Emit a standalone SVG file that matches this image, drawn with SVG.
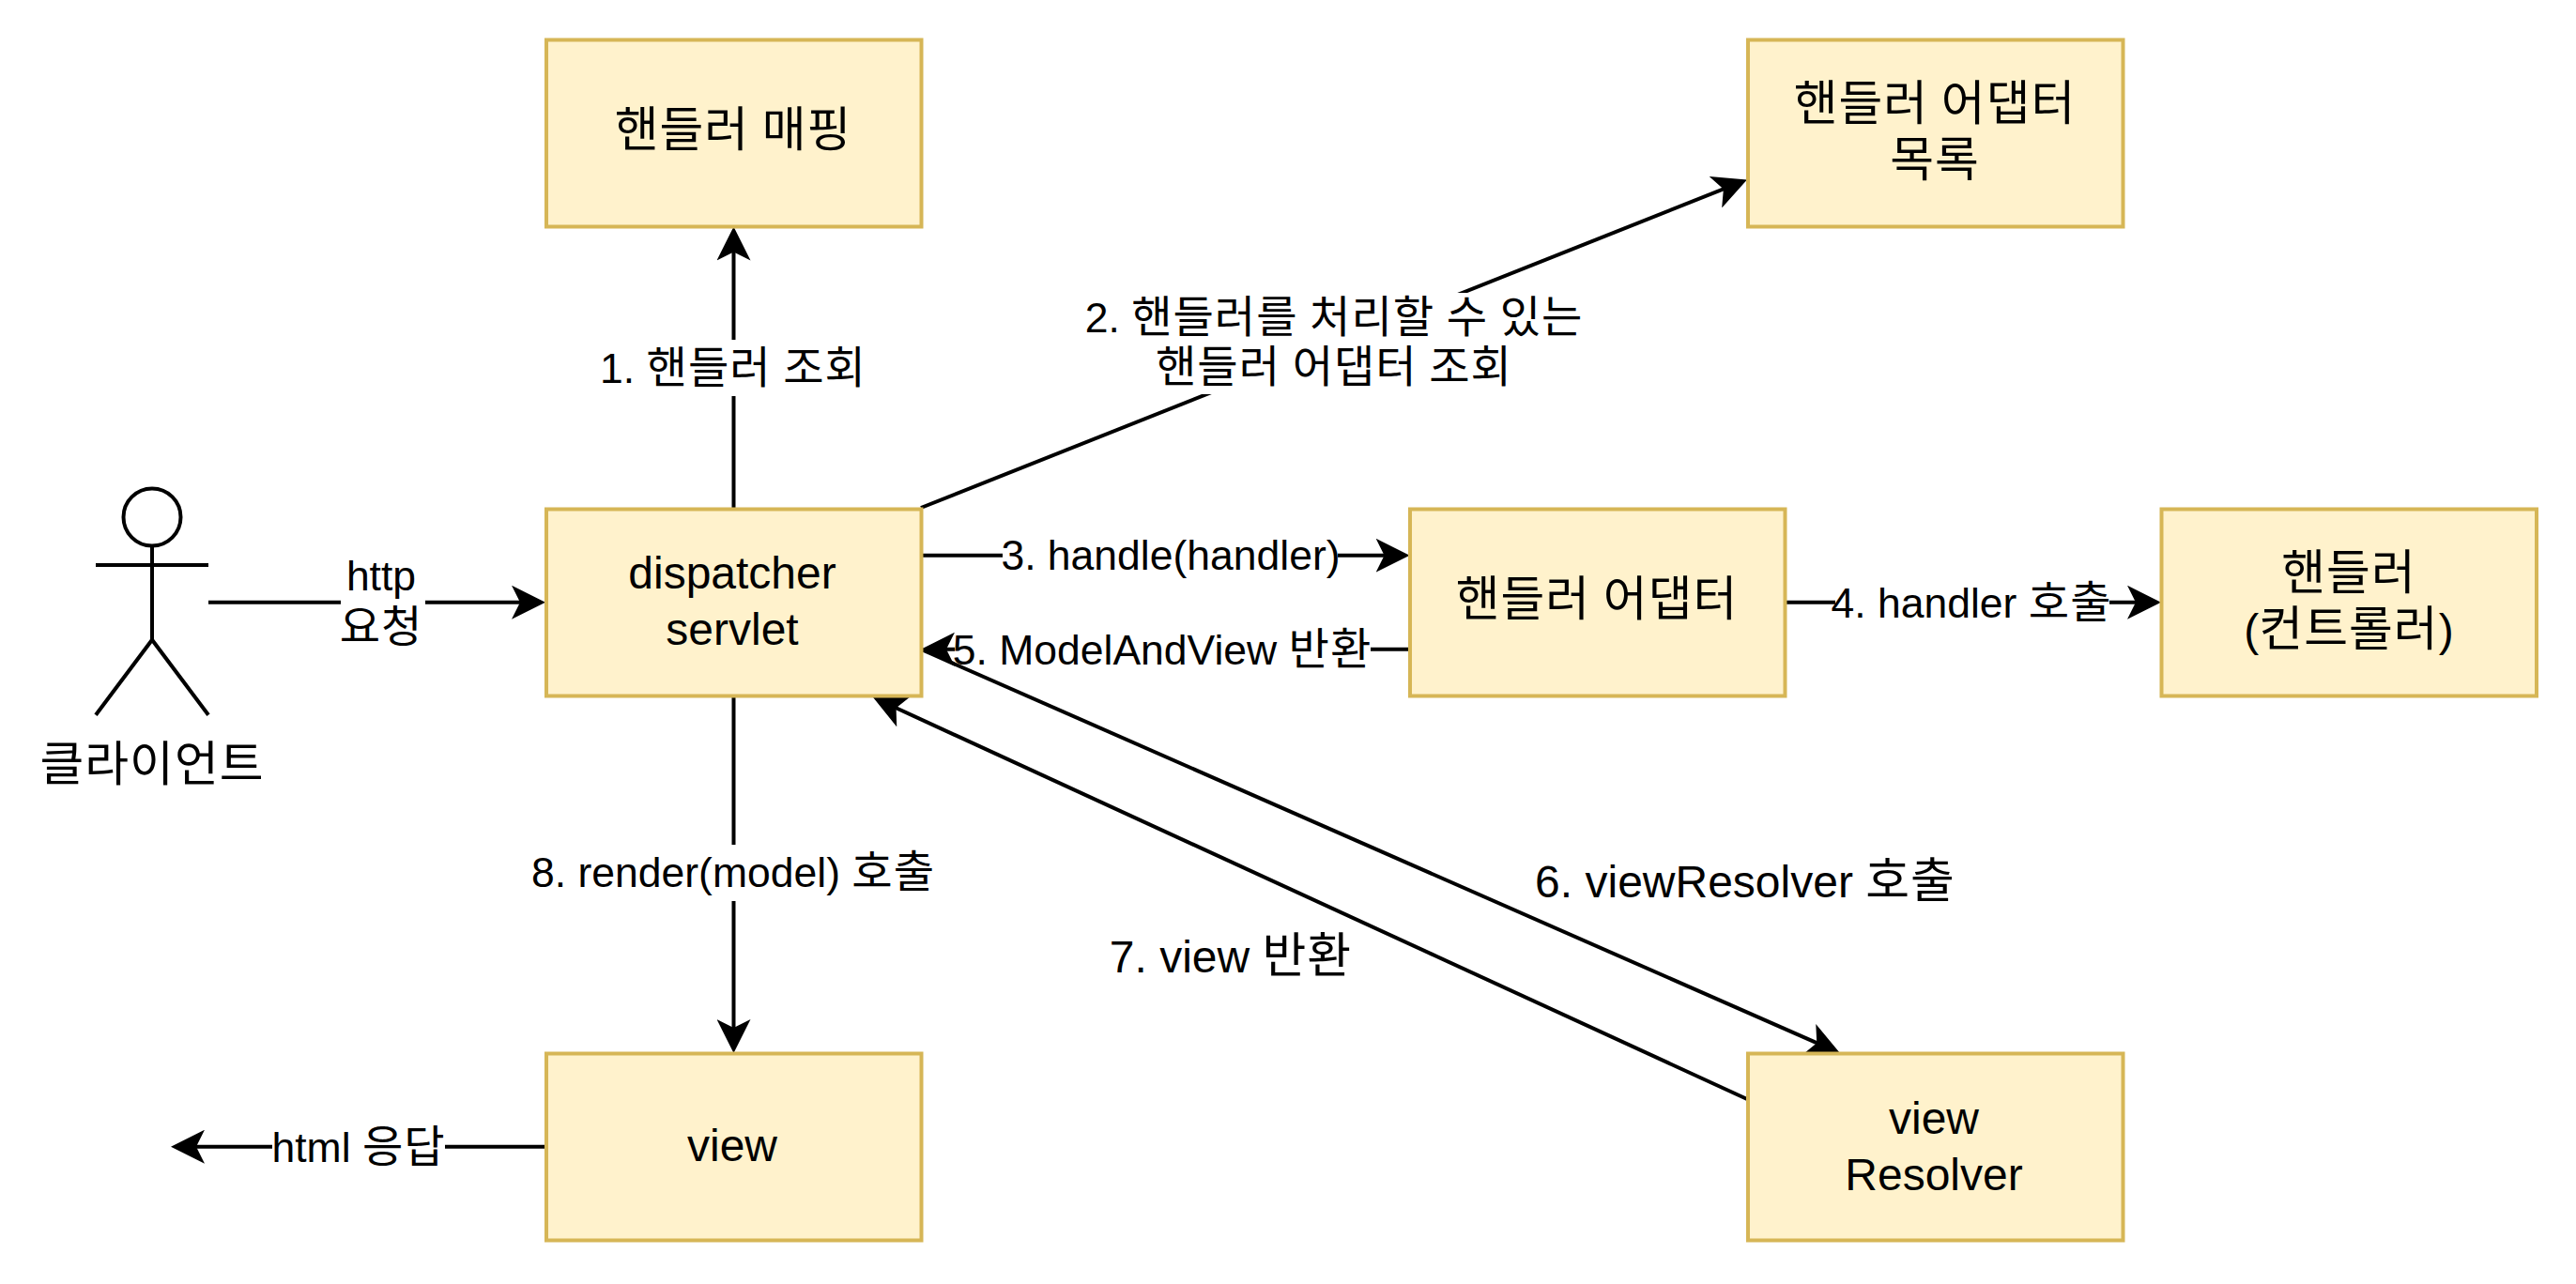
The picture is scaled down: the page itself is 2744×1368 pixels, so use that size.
<svg xmlns="http://www.w3.org/2000/svg" width="2744" height="1368" viewBox="0 0 2744 1368">
<style>
text{font-family:"Liberation Sans","Noto Sans CJK KR",sans-serif;fill:#000;text-anchor:middle}
.n{font-size:48px}
.e{font-size:44.5px}
.k{font-size:1.06em;letter-spacing:.02em;word-spacing:-.03em}
.box{fill:#fff2cc;stroke:#d6b656;stroke-width:4}
.ln{fill:none;stroke:#000;stroke-width:4}
.a{marker-end:url(#arrow)}
.bg{fill:#fff}
</style>
<defs>
<marker id="arrow" markerUnits="userSpaceOnUse" markerWidth="36" markerHeight="36" refX="30" refY="18" orient="auto" viewBox="0 0 36 36"><path d="M0 0L36 18L0 36L9 18Z" fill="#000"/></marker>
</defs>
<rect width="2744" height="1368" fill="#fff"/>
<g id="connectors">
<line class="ln a" x1="222" y1="641.7" x2="575" y2="641.7"/>
<rect class="bg" x="363" y="585" width="90" height="113"/>
<text class="e" x="406" y="629">http</text>
<text class="e" x="406" y="684"><tspan class="k">요청</tspan></text>
<line class="ln a" x1="781.5" y1="541" x2="781.5" y2="247.5"/>
<rect class="bg" x="642" y="362" width="278" height="60"/>
<text class="e" x="781" y="408">1. <tspan class="k">핸들러 조회</tspan></text>
<line class="ln a" x1="981" y1="541" x2="1855.4" y2="193.7"/>
<rect class="bg" x="1158" y="312" width="526" height="108"/>
<text class="e" x="1421" y="354">2. <tspan class="k">핸들러를 처리할 수 있는</tspan></text>
<text class="e" x="1421" y="407"><tspan class="k">핸들러 어댑터 조회</tspan></text>
<line class="ln a" x1="981" y1="591.7" x2="1495.6" y2="591.7"/>
<rect class="bg" x="1068" y="562" width="357" height="60"/>
<text class="e" x="1247" y="607">3. handle(handler)</text>
<line class="ln a" x1="1501.6" y1="691.7" x2="987" y2="691.7"/>
<rect class="bg" x="1017" y="662" width="443" height="60"/>
<text class="e" x="1238" y="708">5. ModelAndView <tspan class="k">반환</tspan></text>
<line class="ln a" x1="1901" y1="641.7" x2="2296" y2="641.7"/>
<rect class="bg" x="1955" y="612" width="292" height="60"/>
<text class="e" x="2100" y="658">4. handler <tspan class="k">호출</tspan></text>
<line class="ln a" x1="981" y1="691.7" x2="1954.5" y2="1119.6"/>
<line class="ln a" x1="1861" y1="1171" x2="935.5" y2="745.5"/>
<line class="ln a" x1="781.5" y1="741" x2="781.5" y2="1116"/>
<rect class="bg" x="570" y="900" width="422" height="60"/>
<text class="e" x="781" y="945">8. render(model) <tspan class="k">호출</tspan></text>
<line class="ln a" x1="581" y1="1221.7" x2="188" y2="1221.7"/>
<rect class="bg" x="290" y="1192" width="184" height="60"/>
<text class="e" x="382" y="1238">html <tspan class="k">응답</tspan></text>
</g>
<g id="text-6"><text class="n" x="1859" y="956">6. viewResolver <tspan class="k">호출</tspan></text></g>
<g id="text-7"><text class="n" x="1311" y="1036">7. view <tspan class="k">반환</tspan></text></g>
<g id="actor">
<circle class="ln" cx="162" cy="551" r="30.5"/>
<path class="ln" d="M162 581.5V681.7M102 602H222M102 761.7L162 681.7L222 761.7"/>
<text class="n" x="162" y="832"><tspan class="k">클라이언트</tspan></text>
</g>
<g id="handler-mapping"><rect class="box" x="582" y="42.5" width="399.5" height="199"/><text class="n" x="781" y="156"><tspan class="k">핸들러 매핑</tspan></text></g>
<g id="adapter-list"><rect class="box" x="1862" y="42.5" width="399.5" height="199"/><text class="n" x="2061" y="128"><tspan class="k">핸들러 어댑터</tspan></text><text class="n" x="2061" y="188"><tspan class="k">목록</tspan></text></g>
<g id="dispatcher"><rect class="box" x="582" y="542.5" width="399.5" height="199"/><text class="n" x="780" y="627">dispatcher</text><text class="n" x="780" y="687">servlet</text></g>
<g id="handler-adapter"><rect class="box" x="1502" y="542.5" width="399.5" height="199"/><text class="n" x="1701" y="656"><tspan class="k">핸들러 어댑터</tspan></text></g>
<g id="handler"><rect class="box" x="2302.5" y="542.5" width="399.5" height="199"/><text class="n" x="2502" y="628"><tspan class="k">핸들러</tspan></text><text class="n" x="2502" y="688">(<tspan class="k">컨트롤러</tspan>)</text></g>
<g id="view"><rect class="box" x="582" y="1122.5" width="399.5" height="199"/><text class="n" x="780" y="1237">view</text></g>
<g id="view-resolver"><rect class="box" x="1862" y="1122.5" width="399.5" height="199"/><text class="n" x="2060" y="1208">view</text><text class="n" x="2060" y="1268">Resolver</text></g>
</svg>
